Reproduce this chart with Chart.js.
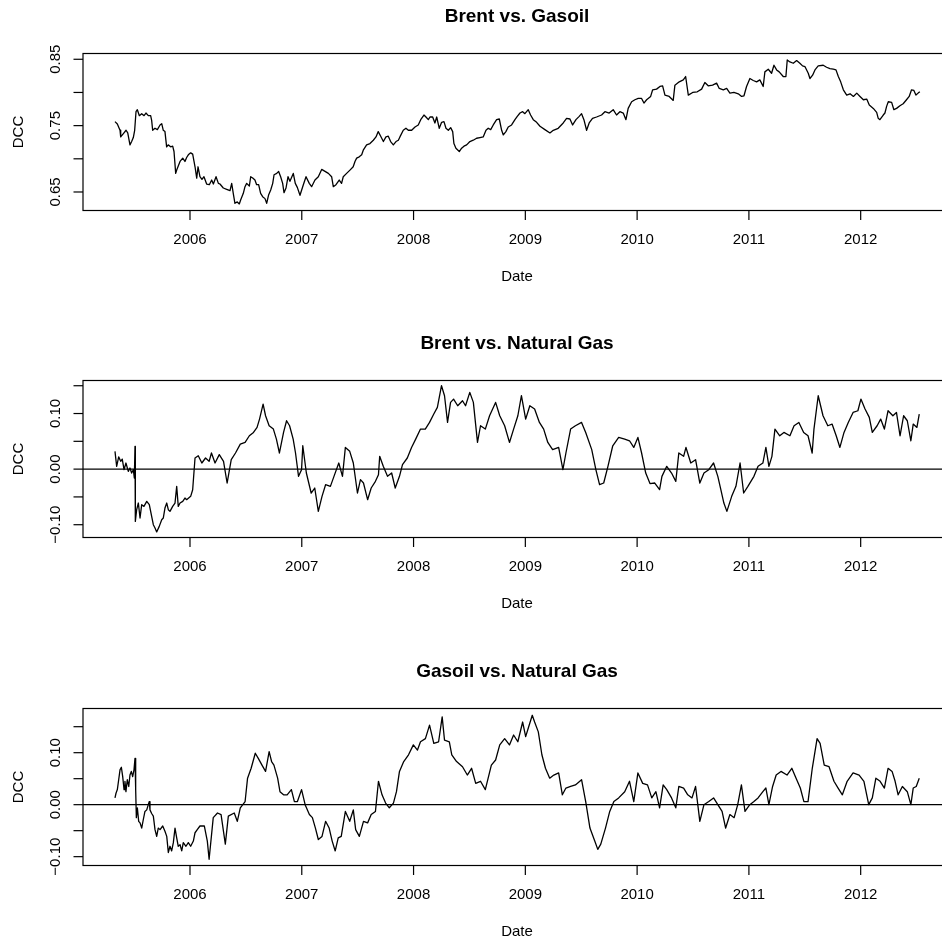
<!DOCTYPE html>
<html>
<head>
<meta charset="utf-8">
<script src="https://cdn.jsdelivr.net/npm/chart.js@4.4.1/dist/chart.umd.min.js"></script>
<style>
  html, body { margin: 0; padding: 0; background: #fff; overflow: hidden; width: 942px; height: 943px; }
  .panel { position: absolute; left: 0; width: 960px; height: 288px; }
</style>
</head>
<body>
<div class="panel" style="top:0px"><canvas id="c1" width="960" height="288"></canvas></div>
<div class="panel" style="top:327px"><canvas id="c2" width="960" height="288"></canvas></div>
<div class="panel" style="top:655px"><canvas id="c3" width="960" height="288"></canvas></div>
<script>
// dates are decimal years, values are the DCC estimates
const yearTicks = [2006, 2007, 2008, 2009, 2010, 2011, 2012];

const brentGasoilT = [2005.329,2005.350,2005.374,2005.380,2005.404,2005.428,2005.443,2005.463,2005.478,2005.493,2005.505,2005.517,2005.529,2005.547,2005.568,2005.589,2005.606,2005.627,2005.648,2005.657,2005.666,2005.687,2005.708,2005.732,2005.747,2005.761,2005.776,2005.791,2005.805,2005.827,2005.845,2005.857,2005.872,2005.881,2005.911,2005.935,2005.955,2005.970,2005.985,2006.006,2006.024,2006.036,2006.045,2006.060,2006.072,2006.089,2006.107,2006.125,2006.149,2006.173,2006.194,2006.209,2006.233,2006.254,2006.268,2006.298,2006.328,2006.358,2006.373,2006.387,2006.402,2006.423,2006.441,2006.453,2006.477,2006.492,2006.507,2006.531,2006.543,2006.561,2006.581,2006.596,2006.614,2006.632,2006.650,2006.671,2006.686,2006.704,2006.722,2006.740,2006.752,2006.776,2006.793,2006.811,2006.829,2006.841,2006.859,2006.877,2006.894,2006.924,2006.942,2006.960,2006.984,2007.014,2007.038,2007.067,2007.088,2007.118,2007.148,2007.178,2007.208,2007.238,2007.267,2007.282,2007.306,2007.335,2007.356,2007.371,2007.401,2007.431,2007.460,2007.476,2007.491,2007.514,2007.536,2007.550,2007.580,2007.610,2007.640,2007.664,2007.684,2007.706,2007.730,2007.753,2007.774,2007.795,2007.819,2007.843,2007.864,2007.878,2007.908,2007.932,2007.953,2007.983,2008.013,2008.042,2008.064,2008.093,2008.111,2008.132,2008.147,2008.171,2008.191,2008.207,2008.230,2008.251,2008.272,2008.290,2008.311,2008.332,2008.350,2008.361,2008.379,2008.409,2008.430,2008.451,2008.475,2008.504,2008.534,2008.564,2008.594,2008.623,2008.648,2008.668,2008.690,2008.713,2008.743,2008.767,2008.788,2008.803,2008.826,2008.847,2008.877,2008.907,2008.928,2008.952,2008.976,2008.996,2009.026,2009.047,2009.071,2009.101,2009.131,2009.175,2009.220,2009.250,2009.294,2009.339,2009.369,2009.399,2009.423,2009.453,2009.482,2009.503,2009.524,2009.548,2009.571,2009.601,2009.637,2009.682,2009.712,2009.750,2009.786,2009.816,2009.846,2009.876,2009.900,2009.920,2009.951,2009.980,2010.010,2010.040,2010.061,2010.085,2010.121,2010.139,2010.174,2010.204,2010.228,2010.249,2010.287,2010.323,2010.338,2010.377,2010.413,2010.434,2010.458,2010.497,2010.538,2010.577,2010.606,2010.636,2010.675,2010.711,2010.735,2010.771,2010.801,2010.830,2010.866,2010.905,2010.935,2010.956,2010.979,2011.009,2011.039,2011.069,2011.098,2011.128,2011.143,2011.173,2011.203,2011.224,2011.248,2011.271,2011.307,2011.331,2011.343,2011.367,2011.397,2011.427,2011.456,2011.480,2011.501,2011.531,2011.546,2011.570,2011.591,2011.620,2011.665,2011.695,2011.725,2011.755,2011.779,2011.800,2011.821,2011.845,2011.875,2011.905,2011.935,2011.965,2011.994,2012.024,2012.054,2012.077,2012.113,2012.143,2012.157,2012.172,2012.202,2012.217,2012.232,2012.247,2012.277,2012.297,2012.321,2012.351,2012.380,2012.410,2012.434,2012.455,2012.476,2012.494,2012.514,2012.529];
const brentGasoilV = [0.756,0.7525,0.743,0.733,0.738,0.743,0.739,0.721,0.726,0.732,0.743,0.771,0.774,0.765,0.768,0.765,0.769,0.765,0.765,0.758,0.743,0.746,0.744,0.751,0.753,0.743,0.741,0.718,0.721,0.718,0.719,0.711,0.678,0.683,0.696,0.701,0.696,0.702,0.706,0.709,0.707,0.696,0.688,0.671,0.688,0.673,0.669,0.673,0.662,0.661,0.668,0.662,0.673,0.663,0.662,0.656,0.654,0.652,0.663,0.648,0.633,0.635,0.632,0.638,0.648,0.658,0.663,0.659,0.673,0.671,0.668,0.661,0.661,0.648,0.643,0.640,0.633,0.646,0.653,0.663,0.676,0.678,0.681,0.673,0.663,0.649,0.656,0.673,0.666,0.678,0.663,0.657,0.645,0.661,0.673,0.663,0.658,0.668,0.673,0.684,0.681,0.678,0.673,0.658,0.661,0.668,0.663,0.673,0.678,0.683,0.688,0.696,0.701,0.703,0.706,0.713,0.721,0.723,0.728,0.733,0.741,0.734,0.726,0.733,0.734,0.726,0.721,0.726,0.728,0.733,0.743,0.746,0.743,0.743,0.748,0.751,0.759,0.766,0.763,0.759,0.763,0.763,0.754,0.763,0.746,0.755,0.756,0.746,0.743,0.747,0.741,0.723,0.716,0.711,0.716,0.719,0.721,0.726,0.728,0.731,0.732,0.733,0.743,0.746,0.744,0.751,0.759,0.760,0.743,0.736,0.741,0.748,0.751,0.759,0.764,0.769,0.771,0.768,0.774,0.766,0.759,0.755,0.749,0.744,0.739,0.743,0.746,0.754,0.761,0.760,0.751,0.759,0.764,0.768,0.759,0.743,0.754,0.761,0.763,0.766,0.771,0.769,0.774,0.766,0.771,0.769,0.759,0.776,0.786,0.789,0.791,0.791,0.784,0.789,0.794,0.804,0.805,0.809,0.810,0.796,0.794,0.788,0.811,0.816,0.819,0.824,0.796,0.800,0.801,0.805,0.815,0.810,0.811,0.814,0.806,0.804,0.806,0.799,0.800,0.798,0.794,0.795,0.809,0.821,0.818,0.816,0.819,0.809,0.831,0.835,0.829,0.841,0.834,0.831,0.824,0.824,0.849,0.846,0.844,0.848,0.844,0.840,0.839,0.829,0.821,0.826,0.834,0.840,0.841,0.838,0.836,0.835,0.834,0.824,0.816,0.804,0.796,0.798,0.794,0.799,0.794,0.789,0.790,0.781,0.776,0.770,0.761,0.759,0.766,0.769,0.779,0.786,0.785,0.774,0.776,0.780,0.783,0.789,0.794,0.804,0.803,0.796,0.799,0.801];

const brentNgT = [2005.329,2005.344,2005.362,2005.380,2005.394,2005.410,2005.427,2005.448,2005.463,2005.478,2005.493,2005.502,2005.508,2005.511,2005.523,2005.538,2005.553,2005.568,2005.588,2005.613,2005.636,2005.657,2005.672,2005.687,2005.702,2005.725,2005.747,2005.761,2005.776,2005.792,2005.806,2005.821,2005.845,2005.866,2005.881,2005.895,2005.911,2005.935,2005.955,2005.970,2006.006,2006.024,2006.045,2006.074,2006.106,2006.139,2006.171,2006.192,2006.224,2006.262,2006.300,2006.332,2006.369,2006.407,2006.450,2006.493,2006.531,2006.568,2006.600,2006.622,2006.654,2006.676,2006.708,2006.746,2006.773,2006.800,2006.837,2006.864,2006.891,2006.923,2006.944,2006.971,2006.998,2007.009,2007.041,2007.084,2007.116,2007.148,2007.181,2007.213,2007.256,2007.288,2007.331,2007.364,2007.390,2007.429,2007.461,2007.498,2007.525,2007.552,2007.589,2007.621,2007.659,2007.686,2007.697,2007.729,2007.767,2007.804,2007.836,2007.874,2007.901,2007.944,2007.982,2008.019,2008.062,2008.105,2008.143,2008.181,2008.213,2008.250,2008.277,2008.304,2008.331,2008.358,2008.395,2008.438,2008.465,2008.503,2008.535,2008.572,2008.599,2008.642,2008.680,2008.734,2008.771,2008.815,2008.858,2008.895,2008.933,2008.965,2009.003,2009.040,2009.083,2009.126,2009.164,2009.201,2009.244,2009.298,2009.336,2009.363,2009.405,2009.448,2009.503,2009.540,2009.594,2009.631,2009.664,2009.701,2009.739,2009.782,2009.835,2009.889,2009.932,2009.970,2010.007,2010.040,2010.077,2010.115,2010.158,2010.201,2010.222,2010.265,2010.308,2010.346,2010.373,2010.416,2010.437,2010.480,2010.523,2010.561,2010.598,2010.641,2010.684,2010.722,2010.749,2010.776,2010.803,2010.846,2010.884,2010.921,2010.953,2010.991,2011.045,2011.082,2011.125,2011.152,2011.179,2011.206,2011.233,2011.276,2011.313,2011.367,2011.404,2011.447,2011.490,2011.529,2011.566,2011.582,2011.620,2011.663,2011.706,2011.744,2011.781,2011.814,2011.851,2011.889,2011.932,2011.975,2012.002,2012.039,2012.077,2012.104,2012.147,2012.179,2012.212,2012.245,2012.288,2012.320,2012.352,2012.384,2012.417,2012.449,2012.470,2012.503,2012.524];
const brentNgV = [0.032,0.005,0.022,0.014,0.018,-0.001,0.011,-0.004,0.002,-0.007,-0.001,-0.016,0.041,-0.094,-0.073,-0.061,-0.088,-0.064,-0.067,-0.058,-0.064,-0.085,-0.100,-0.106,-0.113,-0.103,-0.091,-0.088,-0.070,-0.061,-0.073,-0.076,-0.067,-0.061,-0.031,-0.067,-0.061,-0.058,-0.052,-0.055,-0.049,-0.037,0.020,0.024,0.011,0.020,0.014,0.029,0.011,0.026,0.014,-0.025,0.017,0.029,0.045,0.048,0.060,0.066,0.075,0.090,0.117,0.096,0.078,0.072,0.054,0.029,0.066,0.087,0.078,0.054,0.029,-0.013,-0.001,0.042,-0.007,-0.043,-0.034,-0.076,-0.049,-0.028,-0.031,-0.013,0.011,-0.013,0.039,0.032,0.011,-0.043,-0.019,-0.025,-0.055,-0.034,-0.022,-0.010,0.023,0.005,-0.013,-0.007,-0.034,-0.013,0.008,0.020,0.039,0.054,0.072,0.072,0.084,0.099,0.111,0.150,0.132,0.084,0.120,0.126,0.114,0.123,0.114,0.138,0.120,0.048,0.078,0.072,0.096,0.120,0.096,0.078,0.048,0.072,0.096,0.132,0.090,0.114,0.108,0.084,0.072,0.048,0.035,0.039,-0.001,0.029,0.072,0.078,0.084,0.066,0.035,-0.001,-0.028,-0.025,0.005,0.042,0.057,0.054,0.051,0.039,0.057,0.029,-0.007,-0.026,-0.025,-0.037,-0.013,0.005,-0.007,-0.022,0.029,0.023,0.039,0.011,0.017,-0.025,-0.007,-0.001,0.011,-0.013,-0.037,-0.061,-0.076,-0.049,-0.031,0.011,-0.043,-0.031,-0.013,0.005,0.011,0.039,0.005,0.023,0.072,0.060,0.066,0.060,0.078,0.084,0.066,0.060,0.029,0.072,0.132,0.096,0.078,0.081,0.060,0.039,0.066,0.084,0.102,0.105,0.126,0.108,0.093,0.066,0.078,0.090,0.072,0.105,0.096,0.102,0.060,0.096,0.087,0.051,0.081,0.075,0.099];

const gasoilNgT = [2005.329,2005.338,2005.350,2005.362,2005.374,2005.386,2005.398,2005.410,2005.418,2005.427,2005.439,2005.452,2005.463,2005.475,2005.487,2005.499,2005.508,2005.514,2005.520,2005.529,2005.541,2005.553,2005.568,2005.582,2005.597,2005.613,2005.627,2005.636,2005.642,2005.657,2005.672,2005.687,2005.702,2005.716,2005.732,2005.756,2005.776,2005.792,2005.806,2005.821,2005.836,2005.851,2005.866,2005.881,2005.895,2005.911,2005.926,2005.940,2005.964,2005.985,2006.006,2006.030,2006.045,2006.065,2006.089,2006.128,2006.155,2006.171,2006.208,2006.246,2006.278,2006.316,2006.343,2006.396,2006.423,2006.450,2006.493,2006.515,2006.547,2006.584,2006.611,2006.644,2006.676,2006.708,2006.730,2006.751,2006.784,2006.805,2006.837,2006.869,2006.907,2006.934,2006.961,2006.998,2007.030,2007.068,2007.095,2007.122,2007.148,2007.181,2007.213,2007.245,2007.272,2007.299,2007.326,2007.353,2007.390,2007.429,2007.461,2007.482,2007.515,2007.552,2007.589,2007.621,2007.659,2007.686,2007.718,2007.750,2007.783,2007.820,2007.847,2007.874,2007.912,2007.955,2007.998,2008.035,2008.062,2008.106,2008.143,2008.181,2008.224,2008.256,2008.277,2008.320,2008.342,2008.385,2008.438,2008.481,2008.519,2008.556,2008.599,2008.642,2008.696,2008.734,2008.771,2008.815,2008.858,2008.895,2008.933,2008.976,2009.003,2009.030,2009.062,2009.083,2009.116,2009.148,2009.180,2009.218,2009.255,2009.298,2009.331,2009.363,2009.405,2009.448,2009.503,2009.540,2009.578,2009.621,2009.648,2009.675,2009.717,2009.755,2009.792,2009.835,2009.889,2009.932,2009.970,2010.007,2010.050,2010.093,2010.131,2010.168,2010.201,2010.233,2010.265,2010.308,2010.346,2010.373,2010.416,2010.453,2010.491,2010.523,2010.561,2010.598,2010.641,2010.684,2010.722,2010.760,2010.792,2010.830,2010.868,2010.900,2010.933,2010.965,2011.008,2011.045,2011.082,2011.125,2011.152,2011.179,2011.212,2011.244,2011.287,2011.341,2011.384,2011.422,2011.460,2011.492,2011.529,2011.567,2011.610,2011.637,2011.674,2011.717,2011.761,2011.798,2011.836,2011.879,2011.932,2011.986,2012.029,2012.072,2012.104,2012.136,2012.174,2012.212,2012.245,2012.281,2012.308,2012.335,2012.373,2012.417,2012.449,2012.470,2012.497,2012.524];
const gasoilNgV = [0.013,0.022,0.029,0.048,0.067,0.072,0.054,0.029,0.045,0.025,0.048,0.035,0.057,0.064,0.054,0.067,0.089,0.029,-0.025,-0.006,-0.032,-0.035,-0.045,-0.029,-0.013,-0.010,0.000,0.006,-0.010,-0.017,-0.022,-0.048,-0.061,-0.045,-0.048,-0.041,-0.051,-0.061,-0.092,-0.080,-0.089,-0.073,-0.045,-0.064,-0.080,-0.077,-0.089,-0.073,-0.080,-0.073,-0.080,-0.070,-0.054,-0.048,-0.041,-0.041,-0.070,-0.105,-0.025,-0.016,-0.019,-0.076,-0.022,-0.016,-0.032,-0.006,0.006,0.051,0.070,0.099,0.089,0.076,0.064,0.102,0.083,0.076,0.051,0.025,0.019,0.019,0.029,0.006,0.006,0.029,0.000,-0.019,-0.025,-0.045,-0.067,-0.061,-0.032,-0.045,-0.070,-0.089,-0.064,-0.061,-0.013,-0.032,-0.010,-0.048,-0.061,-0.032,-0.035,-0.019,-0.013,0.045,0.019,0.003,-0.006,0.003,0.025,0.064,0.083,0.096,0.115,0.105,0.121,0.127,0.153,0.118,0.121,0.169,0.124,0.121,0.096,0.083,0.073,0.057,0.070,0.041,0.045,0.029,0.076,0.086,0.115,0.127,0.115,0.134,0.121,0.159,0.131,0.150,0.172,0.159,0.140,0.096,0.070,0.051,0.057,0.061,0.019,0.032,0.035,0.038,0.048,0.006,-0.045,-0.070,-0.086,-0.076,-0.045,-0.013,0.006,0.013,0.025,0.045,0.006,0.061,0.041,0.038,0.013,0.025,-0.006,0.038,0.029,0.013,-0.006,0.035,0.032,0.019,0.013,0.035,-0.032,0.000,0.006,0.013,0.000,-0.013,-0.045,-0.019,-0.025,0.000,0.038,-0.013,0.000,0.006,0.013,0.025,0.032,0.000,0.035,0.057,0.064,0.057,0.070,0.051,0.032,0.006,0.006,0.070,0.127,0.118,0.076,0.073,0.045,0.032,0.019,0.045,0.061,0.057,0.045,0.000,0.013,0.051,0.045,0.032,0.070,0.064,0.045,0.019,0.035,0.025,0.000,0.032,0.035,0.051];

const panels = [
  { id: 'c1', title: 'Brent vs. Gasoil', t: brentGasoilT, v: brentGasoilV, min: 0.6221, max: 0.8587,
    yTicks: [0.65, 0.70, 0.75, 0.80, 0.85], yLabels: ['0.65', '', '0.75', '', '0.85'], zero: false },
  { id: 'c2', title: 'Brent vs. Natural Gas', t: brentNgT, v: brentNgV, min: -0.1230, max: 0.1594,
    yTicks: [-0.10, -0.05, 0, 0.05, 0.10, 0.15], yLabels: ['\u22120.10', '', '0.00', '', '0.10', ''], zero: true },
  { id: 'c3', title: 'Gasoil vs. Natural Gas', t: gasoilNgT, v: gasoilNgV, min: -0.1170, max: 0.1850,
    yTicks: [-0.10, -0.05, 0, 0.05, 0.10, 0.15], yLabels: ['\u22120.10', '', '0.00', '', '0.10', ''], zero: true }
];

const FONT = '"Liberation Sans", Arial, Helvetica, sans-serif';

// R base-graphics style frame, ticks and labels, positioned from the chart scales
const rFrame = {
  id: 'rFrame',
  afterDatasetsDraw(chart, args, o) {
    const { ctx, chartArea: a, scales: { x, y } } = chart;
    ctx.save();
    ctx.strokeStyle = '#000';
    ctx.fillStyle = '#000';
    ctx.lineWidth = 1.2;
    const seg = (x1, y1, x2, y2) => { ctx.beginPath(); ctx.moveTo(x1, y1); ctx.lineTo(x2, y2); ctx.stroke(); };

    if (o.zero) {
      const y0 = y.getPixelForValue(0);
      seg(a.left, y0, a.right, y0);
    }
    ctx.strokeRect(a.left, a.top, a.right - a.left, a.bottom - a.top);

    ctx.font = '15px ' + FONT;
    ctx.textAlign = 'center';
    ctx.textBaseline = 'middle';
    yearTicks.forEach(t => {
      const px = x.getPixelForValue(t);
      seg(px, a.bottom, px, a.bottom + 9.5);
      ctx.fillText(String(t), px, a.bottom + 29);
    });
    o.yTicks.forEach((t, i) => {
      const py = y.getPixelForValue(t);
      seg(a.left - 9.5, py, a.left, py);
      if (o.yLabels[i]) {
        ctx.save();
        ctx.translate(a.left - 27, py);
        ctx.rotate(-Math.PI / 2);
        ctx.fillText(o.yLabels[i], 0, 0);
        ctx.restore();
      }
    });

    const cx = (a.left + a.right) / 2;
    ctx.fillText('Date', cx, a.bottom + 66);
    ctx.save();
    ctx.translate(19, (a.top + a.bottom) / 2);
    ctx.rotate(-Math.PI / 2);
    ctx.fillText('DCC', 0, 0);
    ctx.restore();

    ctx.font = 'bold 19px ' + FONT;
    ctx.fillText(o.title, cx, 17);
    ctx.restore();
  }
};

panels.forEach(p => {
  new Chart(document.getElementById(p.id), {
    type: 'line',
    data: {
      datasets: [{
        data: p.t.map((t, i) => ({ x: t, y: p.v[i] })),
        borderColor: '#000',
        borderWidth: 1.3,
        borderJoinStyle: 'round',
        pointRadius: 0,
        tension: 0,
        fill: false
      }]
    },
    options: {
      responsive: false,
      animation: false,
      events: [],
      layout: { padding: { left: 83, right: 9, top: 53.5, bottom: 77.5 } },
      scales: {
        x: { type: 'linear', min: 2005.0428, max: 2012.808, display: false },
        y: { type: 'linear', min: p.min, max: p.max, display: false }
      },
      plugins: {
        legend: { display: false },
        tooltip: { enabled: false },
        rFrame: { title: p.title, yTicks: p.yTicks, yLabels: p.yLabels, zero: p.zero }
      }
    },
    plugins: [rFrame]
  });
});
</script>
</body>
</html>
